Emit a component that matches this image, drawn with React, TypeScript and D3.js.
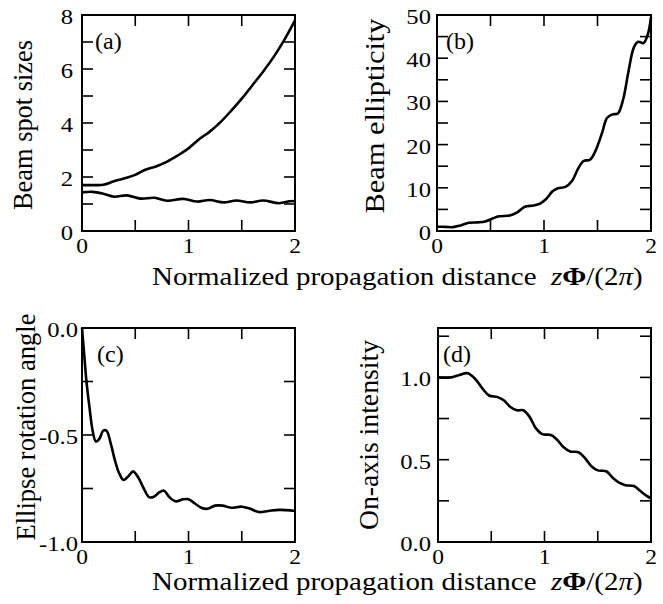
import React from "react";
import * as d3 from "d3";

// x positions (normalized propagation distance) and values
const aUpperX = [0, 0.1, 0.2, 0.3, 0.4, 0.5, 0.6, 0.7, 0.8, 0.9, 1.0, 1.1, 1.2, 1.3, 1.4, 1.5, 1.6, 1.7, 1.8, 1.9, 2.0];
const aUpperY = [1.7, 1.7, 1.71, 1.84, 1.95, 2.08, 2.28, 2.4, 2.57, 2.8, 3.06, 3.4, 3.68, 4.03, 4.45, 4.9, 5.4, 5.9, 6.45, 7.08, 7.8];

const aLowerX = [0, 0.1, 0.2, 0.3, 0.42, 0.55, 0.68, 0.8, 0.95, 1.08, 1.2, 1.33, 1.45, 1.58, 1.7, 1.85, 1.95, 2.0];
const aLowerY = [1.43, 1.45, 1.38, 1.27, 1.32, 1.2, 1.23, 1.12, 1.19, 1.09, 1.15, 1.06, 1.13, 1.06, 1.13, 1.03, 1.1, 1.11];

const bX = [0, 0.08, 0.15, 0.22, 0.3, 0.38, 0.45, 0.52, 0.58, 0.68, 0.75, 0.82, 0.9, 0.96, 1.02, 1.08, 1.13, 1.2, 1.26, 1.32, 1.37, 1.43, 1.48, 1.54, 1.59, 1.64, 1.69, 1.74, 1.79, 1.84, 1.88, 1.93, 1.97, 2.0];
const bY = [1.0, 0.95, 0.9, 1.3, 1.9, 2.0, 2.2, 2.9, 3.4, 3.6, 4.3, 5.6, 5.9, 6.3, 7.4, 9.2, 9.9, 10.2, 11.5, 14.5, 16.2, 16.5, 18.5, 22.5, 26.2, 27.0, 27.2, 30.5, 37.0, 42.5, 43.8, 43.5, 45.5, 49.5];

const cX = [0, 0.02, 0.04, 0.07, 0.1, 0.13, 0.16, 0.2, 0.23, 0.27, 0.31, 0.35, 0.39, 0.44, 0.48, 0.53, 0.58, 0.63, 0.67, 0.72, 0.77, 0.82, 0.88, 0.95, 1.0, 1.06, 1.12, 1.18, 1.25, 1.32, 1.4, 1.5, 1.58, 1.66, 1.75, 1.85, 2.0];
const cY = [0, -0.12, -0.24, -0.37, -0.48, -0.53, -0.52, -0.48, -0.48, -0.54, -0.62, -0.68, -0.71, -0.69, -0.67, -0.7, -0.75, -0.79, -0.79, -0.77, -0.76, -0.79, -0.81, -0.8, -0.8, -0.82, -0.84, -0.845, -0.83, -0.83, -0.84, -0.835, -0.845, -0.86, -0.855, -0.85, -0.855];

const dX = [0, 0.12, 0.2, 0.28, 0.35, 0.42, 0.48, 0.56, 0.62, 0.68, 0.74, 0.8, 0.86, 0.92, 0.98, 1.06, 1.12, 1.18, 1.24, 1.32, 1.38, 1.44, 1.5, 1.58, 1.64, 1.7, 1.76, 1.84, 1.9, 1.96, 2.0];
const dY = [1.0, 1.0, 1.015, 1.025, 0.99, 0.93, 0.89, 0.88, 0.86, 0.82, 0.8, 0.8, 0.76, 0.69, 0.655, 0.65, 0.62, 0.575, 0.55, 0.545, 0.51, 0.46, 0.435, 0.43, 0.39, 0.36, 0.345, 0.34, 0.31, 0.28, 0.265];

// tick values
const xTicks = [0, 0.5, 1, 1.5, 2];
const xTickLabels = [0, 1, 2];
const aTicks = [0, 1, 2, 3, 4, 5, 6, 7, 8];
const aTickLabels = [0, 2, 4, 6, 8];
const bTicks = [0, 5, 10, 15, 20, 25, 30, 35, 40, 45, 50];
const bTickLabels = [0, 10, 20, 30, 40, 50];
const cTicks = [0, -0.25, -0.5, -0.75, -1];
const cTickLabels = [0, -0.5, -1];
const dTicks = [0, 0.25, 0.5, 0.75, 1, 1.25];
const dTickLabels = [0, 0.5, 1];

const FONT = "Liberation Serif, DejaVu Serif, serif";
const TICK = 11;
const SX = 1.12; // the original lettering is a little wider than Times

type Curve = { x: number[]; y: number[] };
type PanelProps = {
  left: number; right: number; top: number; bottom: number;
  yDomain: [number, number];
  yTicks: number[]; yTickLabels: number[]; fmt: (v: number) => string;
  curves: Curve[];
  letter: string; letterDx: number;
  ylabel: string; ylabelX: number; ylabelY: number; ylabelLen: number;
  gap: number;
};

function Panel(p: PanelProps) {
  const x = d3.scaleLinear().domain([0, 2]).range([p.left, p.right]);
  const y = d3.scaleLinear().domain(p.yDomain).range([p.bottom, p.top]);
  const line = d3.line<[number, number]>()
    .x((d) => x(d[0]))
    .y((d) => y(d[1]))
    .curve(d3.curveCatmullRom.alpha(0.5));
  return (
    <g>
      {p.curves.map((c, i) => (
        <path key={i} d={line(c.x.map((v, k) => [v, c.y[k]] as [number, number])) || ""}
          fill="none" stroke="#000" strokeWidth={2.6} strokeLinejoin="round" />
      ))}
      <rect x={p.left} y={p.top} width={p.right - p.left} height={p.bottom - p.top}
        fill="none" stroke="#000" strokeWidth={2} />
      {xTicks.map((t) => (
        <g key={"x" + t}>
          <line x1={x(t)} x2={x(t)} y1={p.bottom} y2={p.bottom - TICK} stroke="#000" strokeWidth={1.6} />
          <line x1={x(t)} x2={x(t)} y1={p.top} y2={p.top + TICK} stroke="#000" strokeWidth={1.6} />
        </g>
      ))}
      {p.yTicks.map((t) => (
        <g key={"y" + t}>
          <line x1={p.left} x2={p.left + TICK} y1={y(t)} y2={y(t)} stroke="#000" strokeWidth={1.6} />
          <line x1={p.right} x2={p.right - TICK} y1={y(t)} y2={y(t)} stroke="#000" strokeWidth={1.6} />
        </g>
      ))}
      {xTickLabels.map((t) => (
        <text key={"xl" + t} transform={`translate(${x(t)},${p.bottom + 22}) scale(${SX},1)`}
          textAnchor="middle" fontSize={21} style={{ fontFamily: FONT }}>{t}</text>
      ))}
      {p.yTickLabels.map((t) => (
        <text key={"yl" + t} transform={`translate(${p.left - p.gap},${y(t) + 9}) scale(${SX},1)`}
          textAnchor="end" fontSize={22} style={{ fontFamily: FONT }}>{p.fmt(t)}</text>
      ))}
      <text x={p.left + p.letterDx} y={p.top + 34} fontSize={24} style={{ fontFamily: FONT }}>{p.letter}</text>
      <text transform={`translate(${p.ylabelX},${p.ylabelY}) rotate(-90)`} textAnchor="middle"
        fontSize={28} style={{ fontFamily: FONT }} textLength={p.ylabelLen} lengthAdjust="spacingAndGlyphs">{p.ylabel}</text>
    </g>
  );
}

function XTitle({ y }: { y: number }) {
  return (
    <text transform={`translate(152,${y}) scale(1.115,1)`} fontSize={26} style={{ fontFamily: FONT }}>
      Normalized propagation distance{"\u00a0\u00a0"}
      <tspan fontStyle="italic">z</tspan>
      <tspan fontWeight="bold">{"\u03a6"}</tspan>
      /(2<tspan fontStyle="italic">{"\u03c0"}</tspan>)
    </text>
  );
}

export default function App() {
  const int = (v: number) => String(v);
  const dec = (v: number) => v.toFixed(1);
  return (
    <svg width={663} height={604} style={{ position: "absolute", left: 0, top: 0, background: "#fff" }}>
      <rect width={663} height={604} fill="#fff" />
      <Panel left={82} right={295} top={15} bottom={231} yDomain={[0, 8]}
        yTicks={aTicks} yTickLabels={aTickLabels} fmt={int}
        curves={[{ x: aUpperX, y: aUpperY }, { x: aLowerX, y: aLowerY }]}
        letter="(a)" letterDx={13} ylabel="Beam spot sizes" ylabelX={32} ylabelY={125} ylabelLen={170} gap={9} />
      <Panel left={437} right={651} top={15} bottom={231} yDomain={[0, 50]}
        yTicks={bTicks} yTickLabels={bTickLabels} fmt={int}
        curves={[{ x: bX, y: bY }]}
        letter="(b)" letterDx={9} ylabel="Beam ellipticity" ylabelX={384} ylabelY={116} ylabelLen={195} gap={6} />
      <Panel left={82} right={295} top={328} bottom={542} yDomain={[-1, 0]}
        yTicks={cTicks} yTickLabels={cTickLabels} fmt={dec}
        curves={[{ x: cX, y: cY }]}
        letter="(c)" letterDx={15} ylabel="Ellipse rotation angle" ylabelX={35} ylabelY={427} ylabelLen={227} gap={4} />
      <Panel left={438} right={651} top={328} bottom={542} yDomain={[0, 1.3]}
        yTicks={dTicks} yTickLabels={dTickLabels} fmt={dec}
        curves={[{ x: dX, y: dY }]}
        letter="(d)" letterDx={5} ylabel="On-axis intensity" ylabelX={378} ylabelY={435} ylabelLen={190} gap={7} />
      <XTitle y={285} />
      <XTitle y={590} />
    </svg>
  );
}
